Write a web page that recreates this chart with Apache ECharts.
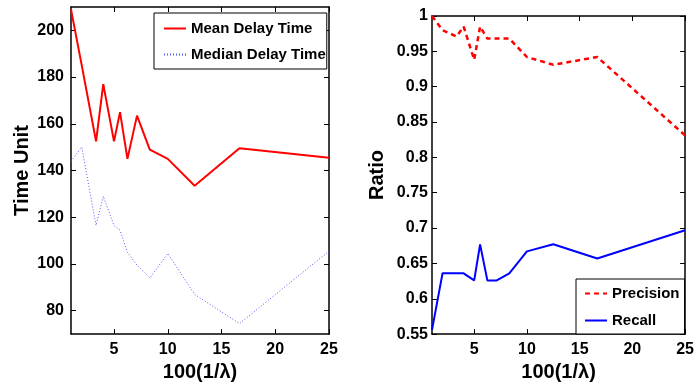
<!DOCTYPE html>
<html>
<head>
<meta charset="utf-8">
<script src="https://cdn.jsdelivr.net/npm/echarts@6/dist/echarts.min.js"></script>
<style>html,body{margin:0;padding:0;background:#fff}#c{width:697px;height:387px}</style>
</head>
<body>
<div id="c"></div>
<script>
var xValues = [1, 2, 3.33, 4, 5, 5.56, 6.25, 7.14, 8.33, 10, 12.5, 16.67, 25];
var meanDelay = [209, 185, 152.5, 177, 152.5, 165, 145, 163.5, 149, 145, 133.5, 149.5, 145.5];
var medianDelay = [144, 150, 116.5, 129, 116.5, 114.5, 105, 99.5, 94, 104.5, 87, 74.5, 105.5];
var precision = [1.0, 0.98, 0.971, 0.985, 0.938, 0.985, 0.968, 0.968, 0.968, 0.942, 0.931, 0.942, 0.831];
var recall = [0.556, 0.636, 0.636, 0.636, 0.626, 0.677, 0.626, 0.626, 0.636, 0.667, 0.677, 0.657, 0.697];
var xTicks = [5, 10, 15, 20, 25];
var timeTicks = [80, 100, 120, 140, 160, 180, 200];
var ratioTicks = [0.55, 0.6, 0.65, 0.7, 0.75, 0.8, 0.85, 0.9, 0.95, 1];

function pairs(xs, ys) { return xs.map(function (x, i) { return [x, ys[i]]; }); }

var FONT = '"Liberation Sans", Arial, sans-serif';
var axisLineStyle = { show: true, onZero: false, lineStyle: { color: '#000', width: 1.5 } };

function xAx(grid, pos, labels) {
  return {
    type: 'value', gridIndex: grid, position: pos, min: 1, max: 25,
    axisLine: axisLineStyle,
    axisTick: { show: true, inside: true, length: 5, customValues: xTicks, lineStyle: { color: '#000', width: 1 } },
    axisLabel: { show: labels, customValues: xTicks, color: '#000', fontFamily: FONT, fontWeight: 'bold', fontSize: 16, margin: 7 },
    splitLine: { show: false },
    name: labels ? '100(1/\u03bb)' : '', nameLocation: 'middle', nameGap: 26,
    nameTextStyle: { color: '#000', fontFamily: FONT, fontWeight: 'bold', fontSize: 20 }
  };
}
function yAx(grid, pos, labels, min, max, ticks, name, gap, margin) {
  return {
    type: 'value', gridIndex: grid, position: pos, min: min, max: max,
    axisLine: axisLineStyle,
    axisTick: { show: true, inside: true, length: 5, customValues: ticks, lineStyle: { color: '#000', width: 1 } },
    axisLabel: { show: labels, customValues: ticks, color: '#000', fontFamily: FONT, fontWeight: 'bold', fontSize: 16, margin: margin,
      formatter: function (v) { return String(Math.round(v * 100) / 100); } },
    splitLine: { show: false },
    name: labels ? name : '', nameLocation: 'middle', nameGap: gap,
    nameTextStyle: { color: '#000', fontFamily: FONT, fontWeight: 'bold', fontSize: 20 }
  };
}

var hiddenSym = { color: 'transparent', borderColor: 'transparent', borderWidth: 0, opacity: 0 };

var chart = echarts.init(document.getElementById('c'), null, { renderer: 'canvas' });
chart.setOption({
  animation: false,
  backgroundColor: '#fff',
  grid: [
    { left: 71, top: 7, width: 258, height: 332 },
    { left: 432, top: 16, width: 254, height: 323 }
  ],
  xAxis: [xAx(0, 'bottom', true), xAx(0, 'top', false), xAx(1, 'bottom', true), xAx(1, 'top', false)],
  yAxis: [
    yAx(0, 'left', true, 70, 210, timeTicks, 'Time Unit', 39, 7),
    yAx(0, 'right', false, 70, 210, timeTicks, '', 0, 0),
    yAx(1, 'left', true, 0.55, 1, ratioTicks, 'Ratio', 45, 4),
    yAx(1, 'right', false, 0.55, 1, ratioTicks, '', 0, 0)
  ],
  legend: [
    {
      data: ['Mean Delay Time', 'Median Delay Time'],
      left: 154, top: 13, orient: 'vertical',
      padding: [8, 1, 7, 9], itemGap: 11, itemWidth: 22, itemHeight: 14,
      borderColor: '#000', borderWidth: 1, backgroundColor: '#fff',
      itemStyle: hiddenSym,
      textStyle: { color: '#000', fontFamily: FONT, fontWeight: 'bold', fontSize: 15 }
    },
    {
      data: ['Precision', 'Recall'],
      left: 576, top: 279, orient: 'vertical',
      padding: [7, 5, 6, 8], itemGap: 12, itemWidth: 22, itemHeight: 14,
      borderColor: '#000', borderWidth: 1, backgroundColor: '#fff',
      itemStyle: hiddenSym,
      textStyle: { color: '#000', fontFamily: FONT, fontWeight: 'bold', fontSize: 15 }
    }
  ],
  series: [
    { name: 'Mean Delay Time', type: 'line', xAxisIndex: 0, yAxisIndex: 0, data: pairs(xValues, meanDelay),
      showSymbol: false, color: '#ff0000', lineStyle: { color: '#ff0000', width: 2 } },
    { name: 'Median Delay Time', type: 'line', xAxisIndex: 0, yAxisIndex: 0, data: pairs(xValues, medianDelay),
      showSymbol: false, color: '#5555ff', lineStyle: { color: '#5555ff', width: 1, type: [1, 2] } },
    { name: 'Precision', type: 'line', xAxisIndex: 2, yAxisIndex: 2, data: pairs(xValues, precision),
      showSymbol: false, color: '#ff0000', lineStyle: { color: '#ff0000', width: 2.5, type: [5, 4] } },
    { name: 'Recall', type: 'line', xAxisIndex: 2, yAxisIndex: 2, data: pairs(xValues, recall),
      showSymbol: false, color: '#0000ff', lineStyle: { color: '#0000ff', width: 2 } }
  ]
});
</script>
</body>
</html>
